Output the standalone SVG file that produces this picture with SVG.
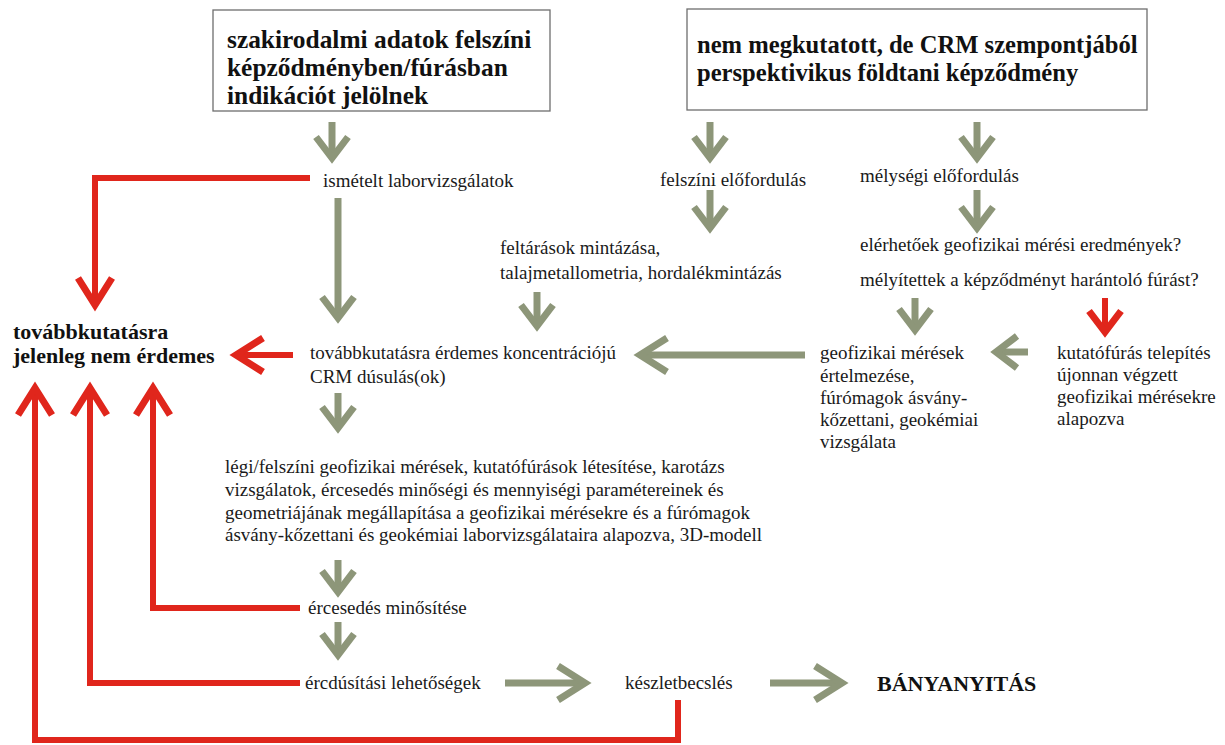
<svg xmlns="http://www.w3.org/2000/svg" width="1225" height="745" viewBox="0 0 1225 745">
<style>
.t{font-family:"Liberation Serif","Times New Roman",serif;font-size:19px;fill:#1a1a1a}
.b{font-family:"Liberation Serif","Times New Roman",serif;font-weight:bold;fill:#111}
.box{fill:#fff;stroke:#6e6e6e;stroke-width:1.3}
.g{fill:none;stroke:#8d9679;stroke-width:7}
.r{fill:none;stroke:#e0261c;stroke-width:6}
</style>
<defs>
<marker id="gs" markerUnits="userSpaceOnUse" markerWidth="60" markerHeight="60" viewBox="-30 -30 60 60" refX="0" refY="0" orient="auto"><path d="M-21,-16 L0,0 L-21,16" fill="none" stroke="#8d9679" stroke-width="7"/></marker>
<marker id="gl" markerUnits="userSpaceOnUse" markerWidth="60" markerHeight="60" viewBox="-30 -30 60 60" refX="0" refY="0" orient="auto"><path d="M-27,-17 L0,0 L-27,17" fill="none" stroke="#8d9679" stroke-width="7"/></marker>
<marker id="rs" markerUnits="userSpaceOnUse" markerWidth="60" markerHeight="60" viewBox="-30 -30 60 60" refX="0" refY="0" orient="auto"><path d="M-21,-16 L0,0 L-21,16" fill="none" stroke="#e0261c" stroke-width="7"/></marker>
<marker id="rl" markerUnits="userSpaceOnUse" markerWidth="60" markerHeight="60" viewBox="-30 -30 60 60" refX="0" refY="0" orient="auto"><path d="M-27,-17 L0,0 L-27,17" fill="none" stroke="#e0261c" stroke-width="7"/></marker>
</defs>
<rect width="1225" height="745" fill="#fff"/>

<g id="box-szakirodalmi">
<rect class="box" x="213" y="10" width="337" height="101"/>
<text class="b" font-size="25.4"><tspan x="227" y="48">szakirodalmi adatok felszíni</tspan><tspan x="227" y="76">képződményben/fúrásban</tspan><tspan x="227" y="104">indikációt jelölnek</tspan></text>
</g>
<g id="box-nem-megkutatott">
<rect class="box" x="687" y="9" width="460" height="101"/>
<text class="b" font-size="24.6"><tspan x="697" y="53">nem megkutatott, de CRM szempontjából</tspan><tspan x="697" y="81">perspektivikus földtani képződmény</tspan></text>
</g>
<g id="n-ismetelt"><text class="t" x="323" y="187">ismételt laborvizsgálatok</text></g>
<g id="n-felszini"><text class="t" x="660" y="186">felszíni előfordulás</text></g>
<g id="n-melysegi"><text class="t" x="860" y="182">mélységi előfordulás</text></g>
<g id="n-feltarasok"><text class="t"><tspan x="500" y="254">feltárások mintázása,</tspan><tspan x="500" y="279">talajmetallometria, hordalékmintázás</tspan></text></g>
<g id="n-elerhetoek"><text class="t"><tspan x="860" y="251">elérhetőek geofizikai mérési eredmények?</tspan><tspan x="860" y="286">mélyítettek a képződményt harántoló fúrást?</tspan></text></g>
<g id="n-erdemes"><text class="t"><tspan x="310" y="359">továbbkutatásra érdemes koncentrációjú</tspan><tspan x="310" y="383">CRM dúsulás(ok)</tspan></text></g>
<g id="n-nem-erdemes"><text class="b" font-size="22"><tspan x="13" y="339">továbbkutatásra</tspan><tspan x="13" y="363">jelenleg nem érdemes</tspan></text></g>
<g id="n-geofizikai"><text class="t"><tspan x="820" y="359">geofizikai mérések</tspan><tspan x="820" y="382">értelmezése,</tspan><tspan x="820" y="404">fúrómagok ásvány-</tspan><tspan x="820" y="426">kőzettani, geokémiai</tspan><tspan x="820" y="448">vizsgálata</tspan></text></g>
<g id="n-kutatofuras"><text class="t"><tspan x="1057" y="359">kutatófúrás telepítés</tspan><tspan x="1057" y="381">újonnan végzett</tspan><tspan x="1057" y="403">geofizikai mérésekre</tspan><tspan x="1057" y="425">alapozva</tspan></text></g>
<g id="n-legi"><text class="t"><tspan x="225" y="473">légi/felszíni geofizikai mérések, kutatófúrások létesítése, karotázs</tspan><tspan x="225" y="496">vizsgálatok, ércesedés minőségi és mennyiségi paramétereinek és</tspan><tspan x="225" y="519">geometriájának megállapítása a geofizikai mérésekre és a fúrómagok</tspan><tspan x="225" y="541">ásvány-kőzettani és geokémiai laborvizsgálataira alapozva, 3D-modell</tspan></text></g>
<g id="n-minosites"><text class="t" x="308" y="614">ércesedés minősítése</text></g>
<g id="n-ercdusitasi"><text class="t" x="305" y="689">ércdúsítási lehetőségek</text></g>
<g id="n-keszlet"><text class="t" x="625" y="689">készletbecslés</text></g>
<g id="n-banya"><text class="b" font-size="22" x="877" y="691">BÁNYANYITÁS</text></g>

<g id="connectors">
<path class="g" marker-end="url(#gs)" d="M332,122 V158"/>
<path class="g" marker-end="url(#gs)" d="M710,122 V158"/>
<path class="g" marker-end="url(#gs)" d="M977,122 V158"/>
<path class="g" marker-end="url(#gs)" d="M710,190 V228"/>
<path class="g" marker-end="url(#gs)" d="M977,190 V228"/>
<path class="g" marker-end="url(#gs)" d="M338,198 V318"/>
<path class="g" marker-end="url(#gs)" d="M537,292 V326"/>
<path class="g" marker-end="url(#gs)" d="M915,298 V330"/>
<path class="g" marker-end="url(#gl)" d="M805,355 H640"/>
<path class="g" marker-end="url(#gs)" d="M1028,352 H996"/>
<path class="g" marker-end="url(#gs)" d="M338,393 V428"/>
<path class="g" marker-end="url(#gs)" d="M338,560 V592"/>
<path class="g" marker-end="url(#gs)" d="M338,622 V655"/>
<path class="g" marker-end="url(#gl)" d="M505,683 H585"/>
<path class="g" marker-end="url(#gl)" d="M770,683 H842"/>
<path class="r" marker-end="url(#rl)" d="M310,178 H95 V305"/>
<path class="r" marker-end="url(#rl)" d="M293,355 H236"/>
<path class="r" marker-end="url(#rs)" d="M1105,298 V332"/>
<path class="r" marker-end="url(#rl)" d="M300,608 H153 V388"/>
<path class="r" marker-end="url(#rl)" d="M300,683 H90 V388"/>
<path class="r" marker-end="url(#rl)" d="M678,700 V740 H35 V388"/>
</g>
</svg>
